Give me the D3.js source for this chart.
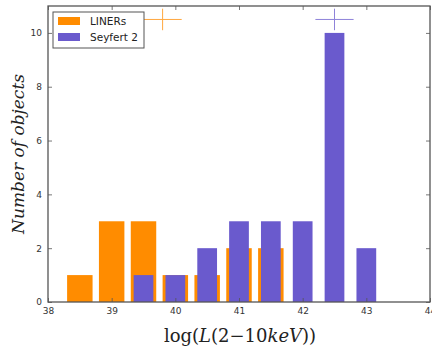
<!DOCTYPE html>
<html>
<head>
<meta charset="utf-8">
<script src="https://cdn.jsdelivr.net/npm/d3@7"></script>
<style>
  body { margin: 0; background: #fff; }
  svg text { font-family: "DejaVu Sans", sans-serif; }
</style>
</head>
<body>
<svg id="chart" width="432" height="350"></svg>
<script>
// bin centres and counts
const linerBins = [38.5, 39.0, 39.5, 40.0, 40.5, 41.0, 41.5];
const linerCounts = [1, 3, 3, 1, 1, 2, 2];
const sy2Bins = [39.5, 40.0, 40.5, 41.0, 41.5, 42.0, 42.5, 43.0];
const sy2Counts = [1, 1, 2, 3, 3, 3, 10, 2];
// mean / spread markers drawn as crosses
const crossLiner = {x: 39.8, y: 10.5, dx: 0.3, dy: 0.4};
const crossSy2 = {x: 42.5, y: 10.5, dx: 0.3, dy: 0.4};
const xTicks = [38, 39, 40, 41, 42, 43, 44];
const yTicks = [0, 2, 4, 6, 8, 10];
const legendItems = ["LINERs", "Seyfert 2"];
const colors = ["#ff8c00", "#6a5acd"];

const svg = d3.select('#chart');
const margin = {left: 48, right: 2, top: 6, bottom: 48};
const W = 432, H = 350;

const x = d3.scaleLinear().domain([38, 44]).range([margin.left, W - margin.right]);
const y = d3.scaleLinear().domain([0, 11]).range([H - margin.bottom, margin.top]);

const liners = linerBins.map((b, i) => ({x: b, n: linerCounts[i]}));
const sy2 = sy2Bins.map((b, i) => ({x: b, n: sy2Counts[i]}));

// orange bars (wider) then purple on top
svg.append('g').selectAll('rect')
    .data(liners)
    .enter().append('rect')
    .attr('x', d => x(d.x - 0.2))
    .attr('width', x(0.4) - x(0))
    .attr('y', d => y(d.n))
    .attr('height', d => y(0) - y(d.n))
    .attr('fill', colors[0]);

svg.append('g').selectAll('rect')
    .data(sy2)
    .enter().append('rect')
    .attr('x', d => x(d.x - 0.155))
    .attr('width', x(0.31) - x(0))
    .attr('y', d => y(d.n))
    .attr('height', d => y(0) - y(d.n))
    .attr('fill', colors[1]);

// crosses
[[crossLiner, colors[0]], [crossSy2, colors[1]]].forEach(([c, col]) => {
    let g = svg.append('g').attr('stroke', col).attr('stroke-width', 1).attr('opacity', 0.75);
    g.append('line').attr('x1', x(c.x - c.dx)).attr('x2', x(c.x + c.dx))
        .attr('y1', y(c.y)).attr('y2', y(c.y));
    g.append('line').attr('x1', x(c.x)).attr('x2', x(c.x))
        .attr('y1', y(c.y - c.dy)).attr('y2', y(c.y + c.dy));
});

// axes with inward ticks on all four sides
const axisCol = '#555';
const axBottom = svg.append('g').attr('transform', `translate(0,${y(0)})`)
    .call(d3.axisBottom(x).tickValues(xTicks).tickSize(-4).tickPadding(6).tickFormat(d3.format('d')));
const axLeft = svg.append('g').attr('transform', `translate(${x(38)},0)`)
    .call(d3.axisLeft(y).tickValues(yTicks).tickSize(-4).tickPadding(6).tickFormat(d3.format('d')));
const axTop = svg.append('g').attr('transform', `translate(0,${y(11)})`)
    .call(d3.axisTop(x).tickValues(xTicks).tickSize(-4).tickFormat(''));
const axRight = svg.append('g').attr('transform', `translate(${x(44)},0)`)
    .call(d3.axisRight(y).tickValues(yTicks).tickSize(-4).tickFormat(''));

[axBottom, axLeft, axTop, axRight].forEach(a => {
    a.select('.domain').remove();
    a.selectAll('line').attr('stroke', axisCol).attr('stroke-width', 0.8);
    a.selectAll('text').attr('fill', '#333').style('font-size', '9px')
        .style('font-family', '"DejaVu Sans", sans-serif');
});

svg.append('rect')
    .attr('x', x(38)).attr('y', y(11))
    .attr('width', x(44) - x(38)).attr('height', y(0) - y(11))
    .attr('fill', 'none').attr('stroke', axisCol).attr('stroke-width', 1.3);

// axis labels
svg.append('text')
    .attr('transform', `translate(24,${(y(0) + y(11)) / 2}) rotate(-90)`)
    .attr('text-anchor', 'middle')
    .style('font-family', '"DejaVu Serif", serif')
    .style('font-style', 'italic')
    .style('font-size', '17px')
    .attr('fill', '#222')
    .text('Number of objects');

const xl = svg.append('text')
    .attr('x', 240).attr('y', 342)
    .attr('text-anchor', 'middle')
    .style('font-family', '"DejaVu Serif", serif')
    .style('font-size', '18px')
    .attr('fill', '#222');
xl.append('tspan').text('log(');
xl.append('tspan').style('font-style', 'italic').text('L');
xl.append('tspan').text('(2\u221210');
xl.append('tspan').style('font-style', 'italic').text('keV');
xl.append('tspan').text('))');

// legend
const lg = svg.append('g');
lg.append('rect').attr('x', 53).attr('y', 12).attr('width', 91).attr('height', 36)
    .attr('fill', '#fff').attr('stroke', '#555').attr('stroke-width', 1);
legendItems.forEach((t, i) => {
    lg.append('rect').attr('x', 58).attr('y', 17 + i * 16).attr('width', 22).attr('height', 8)
        .attr('fill', colors[i]);
    lg.append('text').attr('x', 90).attr('y', 25 + i * 16)
        .style('font-size', '10.5px').attr('fill', '#222').text(t);
});
</script>
</body>
</html>
